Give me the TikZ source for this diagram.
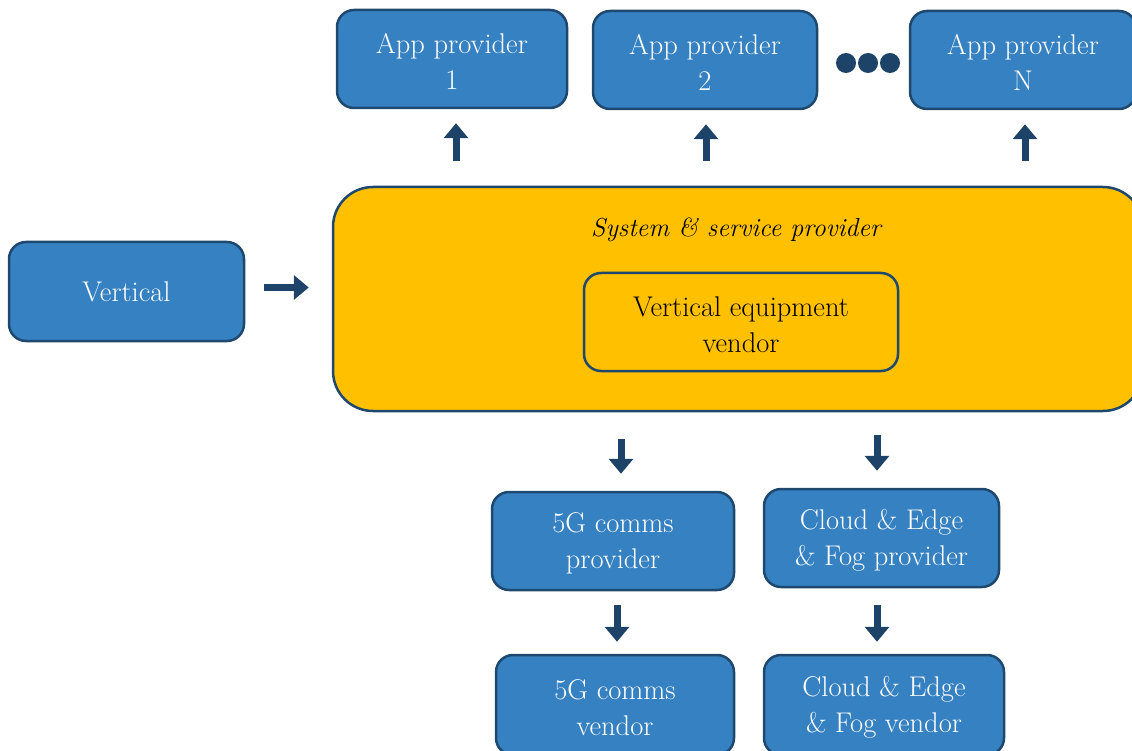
\documentclass[tikz,border=0pt]{standalone}
\usetikzlibrary{arrows.meta}
\definecolor{boxblue}{RGB}{54,129,194}
\definecolor{edgeblue}{RGB}{31,72,110}
\definecolor{arrowblue}{RGB}{29,68,104}
\definecolor{sspyellow}{RGB}{255,192,0}
\tikzset{
  x=1pt, y=-1pt,
  bluebox/.style={draw=edgeblue, fill=boxblue, line width=2.5pt, rounded corners=17pt,
    text=white, align=center, font=\fontsize{28.5}{36}\selectfont, inner sep=0pt},
  yellowbox/.style={draw=edgeblue, fill=sspyellow, line width=2.5pt, rounded corners=40pt},
  innerbox/.style={draw=edgeblue, fill=sspyellow, line width=2.5pt, rounded corners=17pt,
    text=black, align=center, font=\fontsize{28.5}{36}\selectfont, inner sep=0pt},
  bigarrow/.style={draw=arrowblue, line width=7pt, -{Triangle[width=24pt,length=15pt]}},
  dot/.style={circle, fill=arrowblue, minimum size=20pt, inner sep=0pt}
}
\begin{document}
\begin{tikzpicture}
\useasboundingbox (0,0) rectangle (1132,751);
% top row
\node[bluebox, minimum width=230pt, minimum height=98pt] (ap1) at (452,59) {\strut App provider\\1};
\node[bluebox, minimum width=224pt, minimum height=98pt] (ap2) at (705,60) {\strut App provider\\2};
\node[bluebox, minimum width=226pt, minimum height=98pt] (apN) at (1023,60) {\strut App provider\\N};
\node[dot] (d1) at (846,63) {};
\node[dot] (d2) at (868,63) {};
\node[dot] (d3) at (890,63) {};
% vertical
\node[bluebox, minimum width=235pt, minimum height=99pt] (vert) at (126.5,291.5) {Vertical};
% system & service provider
\node[yellowbox, minimum width=810pt, minimum height=224pt] (ssp) at (738,299) {};
\node[font=\fontsize{26}{30}\selectfont\itshape, text=black] (ssplabel) at (736,230) {System \& service provider};
\node[innerbox, minimum width=314pt, minimum height=98pt] (vev) at (741,322) {\strut Vertical equipment\\vendor};
% bottom
\node[bluebox, minimum width=242pt, minimum height=98pt] (g5p) at (613,541) {\strut 5G comms\\provider};
\node[bluebox, minimum width=235pt, minimum height=98pt] (cfp) at (881.5,538) {\strut Cloud \& Edge\\\& Fog provider};
\node[bluebox, minimum width=238pt, minimum height=100pt] (g5v) at (615,705) {\strut 5G comms\\vendor};
\node[bluebox, minimum width=240pt, minimum height=100pt] (cfv) at (884,705) {\strut Cloud \& Edge\\\& Fog vendor};
% arrows
\draw[bigarrow, shorten <=25pt, shorten >=14pt] ([xshift=4pt]ap1.south |- ssp.north) -- ([xshift=4pt]ap1.south);
\draw[bigarrow, shorten <=25pt, shorten >=14pt] ([xshift=1pt]ap2.south |- ssp.north) -- ([xshift=1pt]ap2.south);
\draw[bigarrow, shorten <=25pt, shorten >=14pt] ([xshift=2pt]apN.south |- ssp.north) -- ([xshift=2pt]apN.south);
\draw[bigarrow, shorten <=19pt, shorten >=23pt] ([yshift=4pt]vert.east) -- ([yshift=4pt]vert.east -| ssp.west);
\draw[bigarrow, shorten <=27pt, shorten >=17pt] ([xshift=8pt]g5p.north |- ssp.south) -- ([xshift=8pt]g5p.north);
\draw[bigarrow, shorten <=23pt, shorten >=17pt] ([xshift=-4.5pt]cfp.north |- ssp.south) -- ([xshift=-4.5pt]cfp.north);
\draw[bigarrow, shorten <=14pt, shorten >=12pt] ([xshift=4pt]g5p.south) -- ([xshift=4pt]g5p.south |- g5v.north);
\draw[bigarrow, shorten <=17pt, shorten >=12pt] ([xshift=-4.5pt]cfp.south) -- ([xshift=-4.5pt]cfp.south |- cfv.north);
\end{tikzpicture}
\end{document}
